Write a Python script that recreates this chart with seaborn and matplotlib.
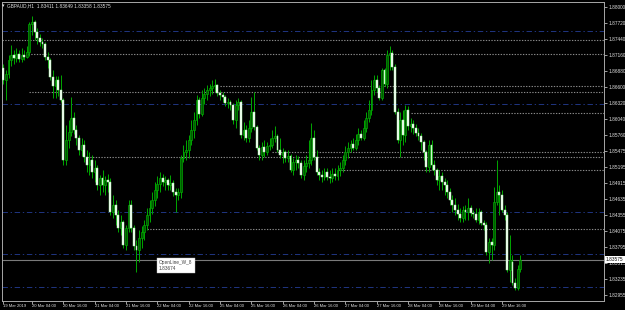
import matplotlib
matplotlib.use("Agg")
import matplotlib.pyplot as plt
import matplotlib.transforms as mtransforms
import seaborn as sns
import numpy as np

# ---------------- data (GBPAUD, H1) ----------------
opens = [1.8693,1.8672,1.8683,1.8707,1.8716,1.8711,1.8718,1.8709,1.8716,1.8712,
 1.8721,1.8770,1.8774,1.8756,1.8746,1.8739,1.8735,1.8712,1.8707,1.8677,
 1.8662,1.8672,1.8655,1.8637,1.8532,1.8567,1.8581,1.8606,1.8585,1.8571,
 1.8550,1.8558,1.8537,1.8523,1.8532,1.8511,1.8518,1.8488,1.8501,1.8488,
 1.8497,1.8494,1.8441,1.8453,1.8436,1.8413,1.8424,1.8383,1.8413,1.8453,
 1.8413,1.8382,1.8375,1.8396,1.8406,1.8418,1.8436,1.8448,1.8462,1.8480,
 1.8490,1.8501,1.8494,1.8497,1.8488,1.8492,1.8476,1.8471,1.8476,1.8536,
 1.8546,1.8550,1.8567,1.8585,1.8602,1.8637,1.8613,1.8641,1.8648,1.8655,
 1.8658,1.8662,1.8663,1.8649,1.8646,1.8642,1.8632,1.8634,1.8628,1.8602,
 1.8628,1.8634,1.8576,1.8585,1.8571,1.8588,1.8616,1.8590,1.8553,1.8541,
 1.8555,1.8546,1.8557,1.8558,1.8571,1.8574,1.8550,1.8541,1.8546,1.8536,
 1.8539,1.8515,1.8529,1.8532,1.8527,1.8506,1.8522,1.8527,1.8532,1.8571,
 1.8537,1.8511,1.8506,1.8502,1.8511,1.8502,1.8500,1.8508,1.8504,1.8515,
 1.8518,1.8532,1.8546,1.8553,1.8560,1.8553,1.8567,1.8578,1.8571,1.8588,
 1.8606,1.8620,1.8655,1.8672,1.8658,1.8641,1.8690,1.8665,1.8716,1.8719,
 1.8695,1.8616,1.8567,1.8602,1.8576,1.8620,1.8592,1.8595,1.8588,1.8579,
 1.8574,1.8564,1.8546,1.8520,1.8558,1.8523,1.8515,1.8497,1.8504,1.8494,
 1.8488,1.8476,1.8462,1.8453,1.8445,1.8438,1.8431,1.8445,1.8441,1.8448,
 1.8439,1.8438,1.8427,1.8441,1.8422,1.8418,1.8371,1.8389,1.8383,1.8459,
 1.8476,1.8471,1.8445,1.8436,1.8340,1.8354,1.8317,1.8308,1.83411]

closes = [1.8672,1.8683,1.8707,1.8716,1.8711,1.8718,1.8709,1.8716,1.8712,1.8721,
 1.8770,1.8774,1.8756,1.8746,1.8739,1.8735,1.8712,1.8707,1.8677,1.8662,
 1.8672,1.8655,1.8637,1.8532,1.8567,1.8581,1.8606,1.8585,1.8571,1.8550,
 1.8558,1.8537,1.8523,1.8532,1.8511,1.8518,1.8488,1.8501,1.8488,1.8497,
 1.8494,1.8441,1.8453,1.8436,1.8413,1.8424,1.8383,1.8413,1.8453,1.8413,
 1.8382,1.8375,1.8396,1.8406,1.8418,1.8436,1.8448,1.8462,1.8480,1.8490,
 1.8501,1.8494,1.8497,1.8488,1.8492,1.8476,1.8471,1.8476,1.8536,1.8546,
 1.8550,1.8567,1.8585,1.8602,1.8637,1.8613,1.8641,1.8648,1.8655,1.8658,
 1.8662,1.8663,1.8649,1.8646,1.8642,1.8632,1.8634,1.8628,1.8602,1.8628,
 1.8634,1.8576,1.8585,1.8571,1.8588,1.8616,1.8590,1.8553,1.8541,1.8555,
 1.8546,1.8557,1.8558,1.8571,1.8574,1.8550,1.8541,1.8546,1.8536,1.8539,
 1.8515,1.8529,1.8532,1.8527,1.8506,1.8522,1.8527,1.8532,1.8571,1.8537,
 1.8511,1.8506,1.8502,1.8511,1.8502,1.8500,1.8508,1.8504,1.8515,1.8518,
 1.8532,1.8546,1.8553,1.8560,1.8553,1.8567,1.8578,1.8571,1.8588,1.8606,
 1.8620,1.8655,1.8672,1.8658,1.8641,1.8690,1.8665,1.8716,1.8719,1.8695,
 1.8616,1.8567,1.8602,1.8576,1.8620,1.8592,1.8595,1.8588,1.8579,1.8574,
 1.8564,1.8546,1.8520,1.8558,1.8523,1.8515,1.8497,1.8504,1.8494,1.8488,
 1.8476,1.8462,1.8453,1.8445,1.8438,1.8431,1.8445,1.8441,1.8448,1.8439,
 1.8438,1.8427,1.8441,1.8422,1.8418,1.8371,1.8389,1.8383,1.8459,1.8476,
 1.8471,1.8445,1.8436,1.8340,1.8357,1.8317,1.8308,1.8341,1.83575]

highs = [1.8700,1.8690,1.8716,1.8733,1.8725,1.8728,1.8725,1.8728,1.8725,1.8732,
 1.8774,1.8784,1.8777,1.8763,1.8753,1.8746,1.8739,1.8721,1.8711,1.8690,
 1.8679,1.8679,1.8681,1.8641,1.8593,1.8602,1.8642,1.8616,1.8593,1.8576,
 1.8571,1.8567,1.8550,1.8546,1.8541,1.8532,1.8523,1.8506,1.8515,1.8504,
 1.8508,1.8501,1.8471,1.8462,1.8445,1.8436,1.8427,1.8418,1.8462,1.8462,
 1.8418,1.8392,1.8410,1.8417,1.8427,1.8448,1.8462,1.8476,1.8494,1.8504,
 1.8511,1.8508,1.8504,1.8501,1.8506,1.8497,1.8483,1.8483,1.8541,1.8558,
 1.8567,1.8576,1.8602,1.8616,1.8646,1.8642,1.8655,1.8658,1.8663,1.8665,
 1.8672,1.8674,1.8665,1.8655,1.8651,1.8646,1.8641,1.8637,1.8632,1.8637,
 1.8641,1.8637,1.8599,1.8593,1.8602,1.8642,1.8651,1.8593,1.8558,1.8564,
 1.8567,1.8564,1.8571,1.8585,1.8592,1.8578,1.8571,1.8553,1.8550,1.8550,
 1.8543,1.8536,1.8541,1.8539,1.8532,1.8532,1.8541,1.8567,1.8597,1.8585,
 1.8550,1.8518,1.8515,1.8518,1.8518,1.8515,1.8518,1.8518,1.8523,1.8529,
 1.8541,1.8557,1.8564,1.8567,1.8571,1.8578,1.8588,1.8585,1.8602,1.8616,
 1.8637,1.8672,1.8681,1.8681,1.8663,1.8693,1.8693,1.8725,1.8732,1.8725,
 1.8700,1.8623,1.8616,1.8620,1.8628,1.8627,1.8606,1.8602,1.8595,1.8588,
 1.8579,1.8567,1.8550,1.8567,1.8567,1.8532,1.8518,1.8515,1.8511,1.8501,
 1.8497,1.8483,1.8471,1.8466,1.8455,1.8448,1.8452,1.8453,1.8466,1.8453,
 1.8445,1.8448,1.8448,1.8445,1.8427,1.8424,1.8396,1.8396,1.8485,1.8532,
 1.8488,1.8480,1.8453,1.8441,1.8401,1.8366,1.8326,1.8348,1.83649]

lows = [1.8665,1.8637,1.8676,1.8697,1.8700,1.8704,1.8704,1.8704,1.8707,1.8711,
 1.8714,1.8751,1.8742,1.8735,1.8732,1.8728,1.8707,1.8693,1.8672,1.8641,
 1.8641,1.8644,1.8634,1.8523,1.8523,1.8553,1.8574,1.8578,1.8558,1.8541,
 1.8539,1.8529,1.8511,1.8506,1.8501,1.8494,1.8480,1.8471,1.8476,1.8471,
 1.8476,1.8436,1.8431,1.8418,1.8406,1.8401,1.8378,1.8375,1.8406,1.8406,
 1.8375,1.8336,1.8354,1.8378,1.8392,1.8410,1.8424,1.8438,1.8452,1.8466,
 1.8476,1.8487,1.8480,1.8480,1.8480,1.8469,1.8441,1.8462,1.8466,1.8529,
 1.8532,1.8536,1.8558,1.8571,1.8593,1.8606,1.8609,1.8630,1.8637,1.8644,
 1.8648,1.8651,1.8644,1.8637,1.8634,1.8627,1.8623,1.8620,1.8595,1.8588,
 1.8620,1.8571,1.8567,1.8564,1.8564,1.8581,1.8585,1.8550,1.8532,1.8532,
 1.8537,1.8541,1.8550,1.8553,1.8564,1.8546,1.8536,1.8527,1.8529,1.8529,
 1.8511,1.8506,1.8515,1.8518,1.8501,1.8497,1.8511,1.8518,1.8523,1.8532,
 1.8506,1.8497,1.8494,1.8497,1.8497,1.8492,1.8494,1.8497,1.8497,1.8504,
 1.8511,1.8523,1.8536,1.8546,1.8550,1.8550,1.8558,1.8567,1.8567,1.8581,
 1.8599,1.8611,1.8646,1.8651,1.8637,1.8637,1.8662,1.8658,1.8690,1.8690,
 1.8613,1.8562,1.8537,1.8558,1.8564,1.8585,1.8581,1.8578,1.8574,1.8567,
 1.8550,1.8532,1.8511,1.8511,1.8515,1.8506,1.8488,1.8480,1.8480,1.8471,
 1.8466,1.8453,1.8441,1.8436,1.8427,1.8424,1.8424,1.8427,1.8427,1.8434,
 1.8431,1.8424,1.8420,1.8418,1.8410,1.8366,1.8352,1.8357,1.8375,1.8453,
 1.8436,1.8441,1.8427,1.8336,1.8319,1.8313,1.8305,1.8305,1.83358]

# time axis labels (bar index -> label)
tick_bars = [0, 11, 23, 35, 47, 59, 71, 83, 95, 107, 119, 131, 143, 155, 167, 179, 191]
tick_labels = ["19 Mar 2019", "20 Mar 04:00", "20 Mar 16:00", "21 Mar 04:00", "21 Mar 16:00",
               "22 Mar 04:00", "22 Mar 16:00", "25 Mar 04:00", "25 Mar 16:00", "26 Mar 04:00",
               "26 Mar 16:00", "27 Mar 04:00", "27 Mar 16:00", "28 Mar 04:00", "28 Mar 16:00",
               "29 Mar 04:00", "29 Mar 16:00"]

price_ticks = [1.88000, 1.87720, 1.87440, 1.87160, 1.86880, 1.86600, 1.86320, 1.86040,
               1.85760, 1.85475, 1.85195, 1.84915, 1.84635, 1.84355, 1.84075, 1.83795,
               1.83515, 1.83235, 1.82955]

# open-line levels (blue dash-dot) and S/R levels (gray dotted, with start bar)
open_levels = [1.87578, 1.86300, 1.84410, 1.83674, 1.83098]
sr_levels = [1.87420, 1.87175, 1.86615, 1.86510, 1.86143, 1.85460, 1.85373, 1.85145, 1.84115]
sr_start_bars = [-0.5, 9.5, 83, 10, 156, 103, 32, 128, 55]

title_text = "GBPAUD,H1  1.83411 1.83649 1.83358 1.83575"
bid_price = 1.83575
tooltip_text = "OpenLine_W_8\n1.83674"

# ---------------- styling ----------------
sns.set_theme(style="dark")
plt.rcParams['font.family'] = ['Liberation Sans', 'DejaVu Sans']

fig = plt.figure(figsize=(6.25, 3.1), dpi=100, facecolor='black')
ax = fig.add_axes([2/625, 9/310, 602/625, 299/310])
ax.set_facecolor('black')

n = len(opens)
idx = np.arange(n)
o = np.array(opens); c = np.array(closes); h = np.array(highs); l = np.array(lows)

# levels
for lv in open_levels:
    ax.axhline(lv, color='#22398a', lw=0.65, dashes=(6, 3, 1.5, 3), zorder=1)
for lv, sb in zip(sr_levels, sr_start_bars):
    ax.hlines(lv, sb, 240, color='#8a8a8a', lw=0.8, linestyles=(0, (1.2, 1.3)), zorder=1)
ax.axhline(bid_price, color='#7a7a7a', lw=0.8, zorder=1)

# candles
ax.vlines(idx, l, h, color='#00a800', lw=0.7, zorder=2)
bull = c >= o
bear = ~bull
body_w = 0.72
hgt = np.maximum(np.abs(c - o), 0.00004)
bot = np.minimum(o, c)
ax.bar(idx[bull], hgt[bull], bottom=bot[bull], width=body_w, color='#005a00',
       edgecolor='#00b400', linewidth=0.45, zorder=3)
ax.bar(idx[bear], hgt[bear], bottom=bot[bear], width=body_w, color='#ffffff',
       edgecolor='#9cf09c', linewidth=0.35, zorder=3)

ax.set_xlim(-0.5, 230.06)
ax.set_ylim(1.828525, 1.88085)

# axes / ticks
for s in ax.spines.values():
    s.set_color('#a8a8a8'); s.set_linewidth(0.7); s.set_visible(True)
ax.grid(False)
ax.yaxis.tick_right()
ax.set_yticks(price_ticks)
ax.set_yticklabels([f"{p:.5f}" for p in price_ticks])
ax.set_xticks(tick_bars)
ax.set_xticklabels(tick_labels)
ax.tick_params(axis='y', colors='#e0e0e0', labelsize=3.4, length=2, width=0.5,
               direction='out', pad=1.0, right=True, left=False)
ax.tick_params(axis='x', colors='#e0e0e0', labelsize=3.0, length=2, width=0.5,
               direction='out', pad=0.4, bottom=True)
for t in ax.get_xticklabels():
    t.set_ha('left')
for t in ax.get_yticklabels() + ax.get_xticklabels():
    t.set_color('#e0e0e0')

# title
ax.text(0.0, 0.997, "\u25be", transform=ax.transAxes, fontsize=3.6, color='#e0e0e0',
        va='top', ha='left', family=['DejaVu Sans'])
ax.text(0.0075, 0.996, title_text, transform=ax.transAxes, fontsize=3.4, color='#e0e0e0',
        va='top', ha='left')

# bid price label on right axis
trans = mtransforms.blended_transform_factory(ax.transAxes, ax.transData)
ax.text(1.003, bid_price, f"{bid_price:.5f}", transform=trans, fontsize=3.4, color='black',
        va='center', ha='left', zorder=10, clip_on=False,
        bbox=dict(boxstyle='square,pad=0.25', fc='white', ec='white', lw=0))

# tooltip
ax.text(59.6, 1.83570, tooltip_text, fontsize=3.4, color='#404040', va='top', ha='left',
        linespacing=1.3, zorder=10,
        bbox=dict(boxstyle='square,pad=0.45', fc='white', ec='#c0c0c0', lw=0.3))

fig.savefig('out.png', dpi=100, facecolor='black')
